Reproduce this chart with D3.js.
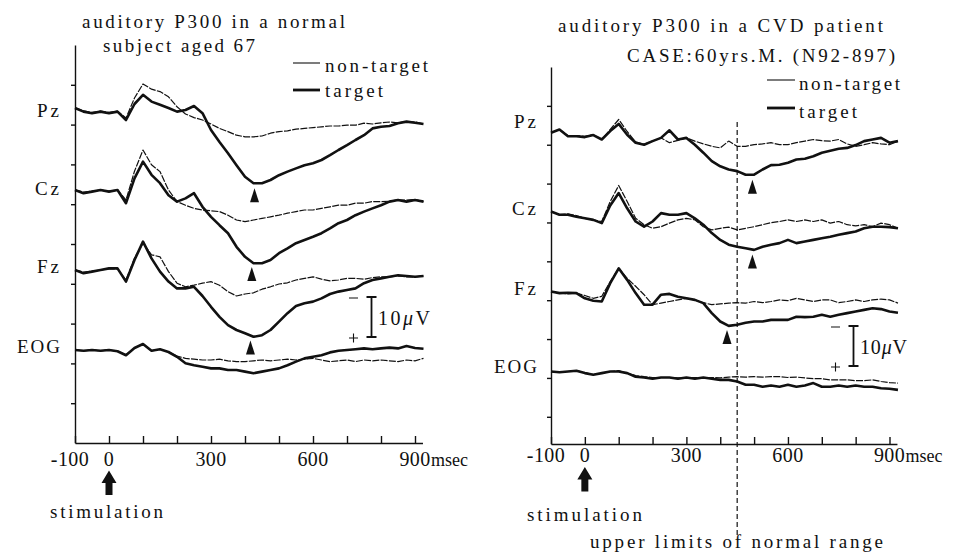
<!DOCTYPE html>
<html>
<head>
<meta charset="utf-8">
<script src="https://cdn.jsdelivr.net/npm/d3@7"></script>
<style>
  body { margin: 0; background: #fff; }
  text { font-family: "Liberation Serif", "DejaVu Serif", serif; fill: #111; }
</style>
</head>
<body>
<script>
// sample times (ms after stimulus)
const times = [-100, -75, -50, -25, 0, 25, 50, 75, 100, 125, 150, 175, 200, 225, 250, 275,
  300, 325, 350, 375, 400, 425, 450, 475, 500, 525, 550, 575, 600, 625, 650, 675,
  700, 725, 750, 775, 800, 825, 850, 875, 900, 925];

const channels = ["Pz", "Cz", "Fz", "EOG"];
const tickTimes = [-100, 0, 100, 200, 300, 400, 500, 600, 700, 800, 900];
const tickLabels = [-100, 0, 300, 600, 900];

// amplitudes in uV, positive drawn downward (negative up)
// normal subject aged 67
const normalPzTarget = [-0.5, 0.4, 0.8, 0.4, 0.8, 0.4, 2.5, -1.5, -3.8, -2.1, -1.3, -0.5,
  0.4, 0, -1, 0.8, 5, 8, 10.8, 13.8, 16.7, 18.3, 18.3, 17.5, 16.3, 15.4, 14.6, 13.8,
  13.3, 12.5, 11.3, 10, 8.8, 7.5, 6.3, 4.6, 4.2, 4, 3.3, 2.9, 3.2, 3.5];
const normalPzNon = [-0.5, 0.2, 0.6, 0.3, 0.6, 0.3, 2.0, -3.0, -6.5, -5.2, -4.6, -3.3,
  -0.8, 1.0, 1.9, 2.5, 3.5, 4.6, 5.4, 6.3, 6.7, 6.7, 6.5, 5.8, 5.4, 5.2, 4.8, 4.6,
  4.4, 4.2, 4, 4, 3.8, 3.8, 3.3, 3.5, 3.2, 3, 3.2, 2.9, 3, 3.5];
const normalCzTarget = [0, 0.8, 0.4, 0, 0.4, 0, 3.3, -2.9, -7.1, -3.8, -1.7, 1.3,
  2.9, 2.1, 0.8, 4.2, 6.7, 8.8, 10.8, 14.2, 16.7, 18.3, 18.3, 17.5, 15.8, 14.6, 13.3, 12.5,
  11.7, 10.8, 9.6, 8.3, 7.5, 6.3, 5.4, 4.6, 3.8, 2.9, 2.5, 2.9, 2.5, 2.9];
const normalCzNon = [0, 0.5, 0.3, 0, 0.3, 0, 2.5, -4.7, -10, -6.3, -4.6, 0,
  2.9, 3.8, 4.6, 5, 5.2, 5.4, 6.3, 7.5, 7.9, 7.5, 7.1, 6.7, 6.3, 5.8, 5.4, 5,
  5, 4.6, 4.2, 3.8, 3.8, 3.3, 3.3, 2.9, 2.9, 2.8, 2.5, 2.5, 2.4, 2.9];
const normalFzTarget = [0, 0.8, 0.4, 0, -0.4, -0.4, 2.9, -2.5, -7.1, -2.9, 0.4, 2.9,
  4.6, 4.6, 4.2, 6.5, 9.2, 11.7, 13.8, 15, 15.8, 16.7, 16.3, 15, 12.9, 10.8, 9, 8.3,
  7.9, 7.1, 6, 5.4, 5, 4.6, 3.3, 2.5, 2.1, 1.7, 1.3, 1.5, 1.7, 1.5];
const normalFzNon = [0, 0.5, 0.3, 0, -0.3, -0.3, 2.5, -3, -6.7, -3.8, -3.3, 0.4,
  3.3, 4.2, 3.8, 3.3, 2.9, 3.8, 5.4, 6.5, 6, 5.7, 4.8, 4.2, 3.5, 3.2, 2.5, 2.1,
  1.7, 2.3, 2.7, 2.5, 2.1, 2.1, 2.3, 1.9, 1.7, 1.7, 1.5, 1.7, 1.7, 1.5];
const normalEogTarget = [0, 0.2, 0, 0.2, 0, 0.3, 1.3, -0.5, -1.5, 0.2, -0.2, 0.5,
  1.7, 3.3, 3.8, 4.2, 4.6, 4.6, 5, 5, 5.4, 5.8, 5.4, 5, 4.6, 3.8, 2.9, 2.1,
  1.7, 1.3, 0.6, 0.2, 0, -0.2, -0.4, -0.2, -0.4, -0.6, -0.4, -1, -0.5, -0.3];
const normalEogNon = [0, 0.2, 0, 0.2, 0, 0.3, 1.2, -0.5, -1.5, 0.2, -0.2, 0.5,
  1.5, 2.1, 2.3, 2.5, 2.5, 2.3, 2.7, 2.9, 2.9, 2.7, 2.5, 2.7, 2.5, 2.3, 2.5, 2.3,
  2.1, 2.5, 2.9, 2.7, 2.5, 2.9, 2.5, 2.7, 2.5, 2.7, 2.9, 2.5, 2.7, 2.1];
const normalPeaks = [428, 420, 416]; // P300 latency for Pz, Cz, Fz

// CVD patient, 60 yrs M
const cvdPzTarget = [0.3, -0.5, 1.2, 1.2, 1.4, 0.9, 2, -0.1, -1.9, 0.8, 2.8, 3.3,
  2.4, 1.6, -0.3, 2, 1.6, 3.3, 5.3, 7.4, 8.7, 9.5, 9.9, 10.8, 10.8, 9.5, 8.4, 8.3,
  7.8, 7, 6.8, 6.2, 5.3, 4.8, 4.3, 4.1, 3.4, 2.4, 2, 1.6, 2.8, 2.4];
const cvdPzNon = [0.3, -0.5, 1, 1, 1.2, 0.8, 2, -0.5, -3, 0, 2.6, 3.2,
  2.4, 1.6, 2.8, 2.2, 1.6, 2.4, 3.1, 3.7, 4.1, 2.4, 3.7, 3.7, 3.3, 3.1, 2.8, 3.3,
  3.3, 2.8, 2.4, 2, 2.3, 2.4, 2, 3.1, 3.7, 3.3, 2.8, 3.1, 3.3, 2.4];
const cvdCzTarget = [0, 0.8, 0.8, 1.3, 1.7, 2.1, 2.9, -1.5, -4.6, -0.8, 2.5, 3.8,
  2.5, 0.4, 0.8, 0.8, 0.4, 1.7, 3.3, 5.4, 7.1, 8.3, 8.8, 9.2, 9.6, 8.8, 8.3, 7.9,
  7.1, 7.9, 7.5, 7.1, 6.7, 6.3, 5.8, 5.4, 5, 4.2, 3.8, 3.8, 3.9, 4.2];
const cvdCzNon = [0, 0.8, 0.6, 1, 1.7, 2.1, 2.5, -2.5, -6.5, -2.5, 1.7, 3.3,
  4.2, 3.8, 2.9, 2.1, 1.7, 2.1, 3.8, 4.6, 4.2, 3.9, 4.6, 4.2, 3.8, 3.3, 2.8, 2.5,
  2.1, 2.5, 2.1, 2.5, 2.1, 2.9, 2.5, 3.3, 3.6, 3.3, 3.8, 2.9, 3.3, 4.2];
const cvdFzTarget = [0, 0.4, 0.3, 0.4, 1.7, 2.3, 2.5, -2.1, -5.8, -2.9, 0.4, 3.3,
  3.3, 0.8, 0.6, 1.3, 1.7, 2.1, 2.9, 5.4, 7.5, 8.6, 8.3, 7.8, 7.5, 7.5, 7.1, 7.1,
  7.1, 6.3, 6.4, 6.3, 5.8, 6.3, 5.8, 5.4, 5, 4.6, 4.2, 4.4, 5, 5.3];
const cvdFzNon = [0, 0.4, 0.6, 0.4, 1, 1.7, 1.2, -2.5, -5.8, -3.3, -1.3, 0.8,
  3.3, 2.9, 2.5, 2.1, 1.7, 2.1, 2.8, 3.3, 3.1, 2.9, 2.8, 2.9, 2.5, 2.8, 2.5, 2.1,
  2.3, 1.7, 2.1, 2.5, 2.1, 2.1, 2.8, 2.5, 2.1, 2.5, 2.1, 1.9, 2.1, 2.9];
const cvdEogTarget = [0, 0.2, 0, -0.2, 0.4, 0.8, 0.4, 0, 0, 0.4, 1.3, 1.5,
  1.8, 1.5, 1.5, 1.8, 1.5, 1.8, 1.5, 1.8, 2.1, 2.1, 2.5, 3.3, 3.3, 3.8, 3.5, 3.8,
  3.3, 3.8, 3.5, 2.9, 3.8, 3.8, 3.5, 3.8, 3.5, 3.8, 3.8, 4.2, 4.3, 4.6];
const cvdEogNon = [0, 0.2, 0, -0.2, 0.3, 0.8, 0.4, 0, -0.2, 0.4, 1, 1.3,
  1.5, 1.5, 1.5, 1.6, 1.5, 1.5, 1.6, 1.5, 1.6, 1.4, 1.3, 1.4, 1.3, 1.4, 1.3, 1.3,
  1.5, 1.4, 1.6, 1.8, 1.8, 2.1, 2.1, 2.1, 2.3, 2.3, 2.1, 2.5, 2.8, 2.9];
const cvdPeaks = [495, 495, 420];
const upperLimit = 450; // upper limit of normal P300 latency

const w = 959;
const h = 552;

const svg = d3.select("body").append("svg").attr("width", w).attr("height", h);

// 10 uV = 40 px
const amp = d3.scaleLinear().domain([0, 10]).range([0, 40]);

const panels = [
  {
    xr: [75, 415], top: 45, bottom: 443, frameMax: 100,
    baselines: [110, 190, 270, 350], labelY: [117, 195, 273, 353], labelEnd: 62,
    target: [normalPzTarget, normalCzTarget, normalFzTarget, normalEogTarget],
    non: [normalPzNon, normalCzNon, normalFzNon, normalEogNon],
    peaks: normalPeaks,
    title: [["auditory P300 in a normal", 82, 28, 263], ["subject aged 67", 103, 52, 152]],
    legend: { x1: 293, x2: 320, y: [63, 90], tx: 325, ty: [72, 97], len: [103, 58] },
    calib: { x: 371.5, top: 297, tx: 378, tlen: 52, sx: 354 },
    tickY: 466, arrowTop: 470.5, stim: [50, 518, 113]
  },
  {
    xr: [551, 889.5], top: 67, bottom: 444, frameMax: 97,
    baselines: [131.5, 211.5, 291.5, 371.5], labelY: [128, 215, 295, 373], labelEnd: 539,
    target: [cvdPzTarget, cvdCzTarget, cvdFzTarget, cvdEogTarget],
    non: [cvdPzNon, cvdCzNon, cvdFzNon, cvdEogNon],
    peaks: cvdPeaks,
    title: [["auditory P300 in a CVD patient", 558, 32, 325], ["CASE:60yrs.M. (N92-897)", 627, 62, 268]],
    legend: { x1: 767, x2: 795, y: [80, 108], tx: 799, ty: [90, 118], len: [101, 58] },
    calib: { x: 853.5, top: 326, tx: 860, tlen: 47, sx: 836 },
    tickY: 462, arrowTop: 467, stim: [527, 521, 115],
    limit: upperLimit
  }
];

function valueAt(series, t) {
  const i = d3.bisectRight(times, t) - 1;
  const f = (t - times[i]) / (times[i + 1] - times[i]);
  return series[i] + f * (series[i + 1] - series[i]);
}

panels.forEach((p) => {
  const g = svg.append("g");
  const x = d3.scaleLinear().domain([-100, 900]).range(p.xr);
  const frame = d3.scaleLinear().domain([0, p.frameMax]).range([p.top, p.bottom]);

  // axes
  g.append("g")
    .attr("transform", `translate(0,${p.bottom})`)
    .call(d3.axisBottom(x.copy().domain([-100, 922]).range([x(-100), x(922)]))
      .tickValues(tickTimes).tickSize(-7).tickSizeOuter(0).tickFormat(""))
    .call((a) => a.selectAll("path,line").attr("stroke", "#111").attr("stroke-width", 1.4));

  g.append("g")
    .attr("transform", `translate(${x(-100)},0)`)
    .call(d3.axisLeft(frame).tickValues(d3.range(10, p.frameMax, 10))
      .tickSize(4).tickSizeOuter(0).tickFormat(""))
    .call((a) => a.selectAll("path,line").attr("stroke", "#111").attr("stroke-width", 1.4));

  g.selectAll(".tl")
    .data(tickLabels)
    .enter()
    .append("text")
    .attr("x", (d) => x(d) + (d < 0 ? -5 : 0))
    .attr("y", p.tickY)
    .attr("text-anchor", "middle")
    .attr("font-size", 20)
    .attr("letter-spacing", 0.4)
    .text((d) => d);

  g.append("text")
    .attr("x", x(900) + 16)
    .attr("y", p.tickY)
    .attr("font-size", 18)
    .text("msec");

  // stimulation arrow
  const sx = x(0);
  const at = p.arrowTop;
  g.append("path")
    .attr("d", `M${sx},${at}L${sx + 7.5},${at + 12.5}H${sx + 3.5}V${at + 24.5}H${sx - 3.5}V${at + 12.5}H${sx - 7.5}Z`)
    .attr("fill", "#111");
  g.append("text")
    .attr("x", p.stim[0])
    .attr("y", p.stim[1])
    .attr("font-size", 19)
    .attr("textLength", p.stim[2])
    .attr("lengthAdjust", "spacing")
    .text("stimulation");

  // titles
  p.title.forEach((t) => {
    g.append("text")
      .attr("x", t[1])
      .attr("y", t[2])
      .attr("font-size", 19)
      .attr("textLength", t[3])
      .attr("lengthAdjust", "spacing")
      .text(t[0]);
  });

  // legend
  const lg = p.legend;
  ["non-target", "target"].forEach((name, i) => {
    g.append("line")
      .attr("x1", lg.x1).attr("x2", lg.x2)
      .attr("y1", lg.y[i]).attr("y2", lg.y[i])
      .attr("stroke", "#111")
      .attr("stroke-width", i ? 2.8 : 1.1);
    g.append("text")
      .attr("x", lg.tx)
      .attr("y", lg.ty[i])
      .attr("font-size", 19)
      .attr("textLength", lg.len[i])
      .attr("lengthAdjust", "spacing")
      .text(name);
  });

  // channel labels
  g.selectAll(".ch")
    .data(channels)
    .enter()
    .append("text")
    .attr("x", p.labelEnd)
    .attr("y", (d, i) => p.labelY[i])
    .attr("text-anchor", "end")
    .attr("font-size", 19)
    .attr("letter-spacing", (d) => (d === "EOG" ? 2 : 3))
    .text((d) => d);

  // traces
  channels.forEach((ch, i) => {
    const base = p.baselines[i];
    const line = d3.line()
      .x((d, k) => x(times[k]))
      .y((d) => base + amp(d));

    g.append("path")
      .datum(p.non[i])
      .attr("d", line)
      .attr("fill", "none")
      .attr("stroke", "#111")
      .attr("stroke-width", 1.2)
      .attr("stroke-dasharray", "7,1.3")
      .attr("stroke-linejoin", "round");

    g.append("path")
      .datum(p.target[i])
      .attr("d", line)
      .attr("fill", "none")
      .attr("stroke", "#111")
      .attr("stroke-width", 2.6)
      .attr("stroke-linejoin", "round");
  });

  // P300 peak markers
  p.peaks.forEach((t, i) => {
    const px = x(t);
    const py = p.baselines[i] + amp(valueAt(p.target[i], t)) + 5;
    g.append("path")
      .attr("d", `M${px},${py}L${px + 4.5},${py + 14}H${px - 4.5}Z`)
      .attr("fill", "#111");
  });

  // calibration bar with - and + signs
  const c = p.calib;
  const cb = c.top + amp(10);
  g.append("path")
    .attr("d", `M${c.x - 5},${c.top}H${c.x + 5}M${c.x},${c.top}V${cb}M${c.x - 5},${cb}H${c.x + 5}`)
    .attr("stroke", "#111")
    .attr("stroke-width", 1.8)
    .attr("fill", "none");
  g.append("path")
    .attr("d", `M${c.sx - 5},${c.top + 1}H${c.sx + 4}M${c.sx - 5},${cb + 1}H${c.sx + 4}M${c.sx - 0.5},${cb - 3.5}V${cb + 5.5}`)
    .attr("stroke", "#111")
    .attr("stroke-width", 1.1)
    .attr("fill", "none");
  const ct = g.append("text")
    .attr("x", c.tx)
    .attr("y", c.top + 28)
    .attr("font-size", 20)
    .attr("textLength", c.tlen)
    .attr("lengthAdjust", "spacing");
  ct.append("tspan").text("10");
  ct.append("tspan").attr("font-style", "italic").text("\u03bc");
  ct.append("tspan").text("V");

  // upper limit of normal latency
  if (p.limit !== undefined) {
    g.append("line")
      .attr("x1", x(p.limit)).attr("x2", x(p.limit))
      .attr("y1", 122).attr("y2", 537)
      .attr("stroke", "#111")
      .attr("stroke-width", 1.2)
      .attr("stroke-dasharray", "5,3");
    g.append("text")
      .attr("x", 590)
      .attr("y", 548)
      .attr("font-size", 19)
      .attr("textLength", 293)
      .attr("lengthAdjust", "spacing")
      .text("upper limits of normal range");
  }
});
</script>
</body>
</html>
